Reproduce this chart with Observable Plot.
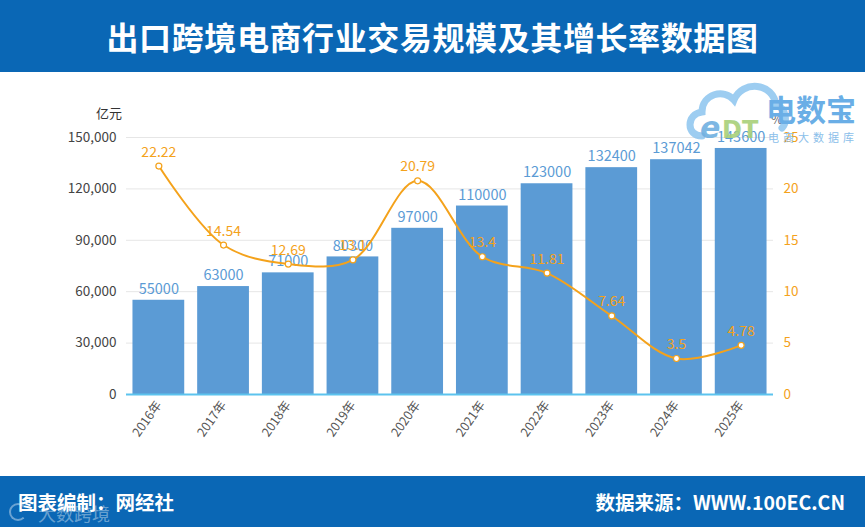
<!DOCTYPE html>
<html><head><meta charset="utf-8">
<script src="https://cdn.jsdelivr.net/npm/d3@7"></script>
<script src="https://cdn.jsdelivr.net/npm/@observablehq/plot@0.6"></script>
<style>
body{margin:0;width:865px;height:527px;overflow:hidden;background:#fff;font-family:"Noto Sans CJK SC","Noto Sans",sans-serif;position:relative}
#hdr{height:72px;background:#0a67b5;color:#fff;font-weight:bold;font-size:32px;display:flex;align-items:center;justify-content:center;letter-spacing:0.6px}
#chart{height:404px;position:relative}
#ftr{height:51px;background:#0a67b5;color:#fff;font-weight:bold;font-size:19.5px;position:relative}
#ftr .l{position:absolute;left:18px;top:11px}
#ftr .r{position:absolute;right:20px;top:11px}
#wm{position:absolute;left:38px;top:500px;color:rgba(255,255,255,0.4);font-size:18px}
#wmi{position:absolute;left:9px;top:503px;width:14px;height:14px;border:2px solid rgba(255,255,255,0.4);border-radius:50%;border-right-color:transparent}
.unit{position:absolute;font-size:13px;color:#333}
#logo{position:absolute;left:682px;top:76px;width:183px;height:75px}
</style></head><body>
<div id="hdr">出口跨境电商行业交易规模及其增长率数据图</div>
<div id="chart"></div>
<div id="ftr"><span class="l">图表编制：网经社</span><span class="r">数据来源：WWW.100EC.CN</span></div>
<div id="wmi"></div>
<div id="wm">大数跨境</div>
<div class="unit" style="left:96px;top:103px">亿元</div>
<div class="unit" style="left:771px;top:109px;color:#666">%</div>
<div id="logo">
<svg width="183" height="75">
<path d="M20 60 C4 60 4 38 20 36 C20 18 42 12 52 24 C60 4 92 6 94 30 C104 31 106 46 100 52" fill="none" stroke="#8cc4ee" stroke-opacity="0.85" stroke-width="7" stroke-linecap="round"/>
<text x="18" y="62" font-size="30" font-style="italic" fill="#6fb0e0" font-family="DejaVu Sans" font-weight="bold" opacity="0.9">e</text>
<text x="40" y="62" font-size="24" fill="#a8d07a" font-family="DejaVu Sans" font-weight="bold" opacity="0.9">DT</text>
<text x="84" y="45" font-size="30" fill="#6aaee6" font-weight="bold" font-family="Noto Sans CJK SC">电数宝</text>
<text x="86" y="66" font-size="11" fill="#8cc0ea" font-family="Noto Sans CJK SC" letter-spacing="4">电商大数据库</text>
</svg>
</div>
<script>
const years = ["2016年","2017年","2018年","2019年","2020年","2021年","2022年","2023年","2024年","2025年"];
const scaleValues = [55000,63000,71000,80300,97000,110000,123000,132400,137042,143600];
const growthValues = [22.22,14.54,12.69,13.1,20.79,13.4,11.81,7.64,3.5,4.78];
const leftTicks = [0,30000,60000,90000,120000,150000];
const rightTicks = [0,5,10,15,20,25];
const ratio = 150000/25;

const data = years.map((y,i)=>({year:y, v:scaleValues[i], g:growthValues[i], gs:growthValues[i]*ratio}));
const blue = "#5b9bd5", orange = "#f4a21b";

const chart = Plot.plot({
  width:865, height:404,
  marginLeft:126, marginRight:92, marginTop:65, marginBottom:82,
  style:{fontFamily:'"Noto Sans CJK SC","Noto Sans",sans-serif', background:"transparent"},
  x:{domain:years, paddingInner:0.2, paddingOuter:0.1, round:false, label:null},
  y:{domain:[0,150000], label:null},
  marks:[
    Plot.gridY(leftTicks.filter(d=>d>0), {stroke:"#e6e6e6", strokeOpacity:1}),
    Plot.barY(data,{x:"year", y:"v", fill:blue}),
    Plot.ruleY([0],{stroke:"#5cc3ee", strokeWidth:2}),
    Plot.axisY(leftTicks,{anchor:"left", tickSize:0, tickPadding:10, fontSize:13.5, color:"#444", tickFormat:d3.format(","), label:null}),
    Plot.axisY(rightTicks.map(d=>d*ratio),{anchor:"right", tickSize:0, tickPadding:10, fontSize:13.5, color:orange, tickFormat:d=>d/ratio, label:null}),
    Plot.axisX({tickSize:0, tickRotate:-55, tickPadding:8, fontSize:12.5, color:"#555", label:null}),
    Plot.text(data,{x:"year", y:"v", text:d=>String(d.v), dy:-11, fill:blue, fontSize:14.5}),
    Plot.line(data,{x:"year", y:"gs", stroke:orange, strokeWidth:2, curve:"catmull-rom"}),
    Plot.dot(data,{x:"year", y:"gs", r:3, fill:"white", stroke:orange, strokeWidth:1.2}),
    Plot.text(data,{x:"year", y:"gs", text:d=>String(d.g), dy:-14, fill:orange, fontSize:14})
  ]
});
document.getElementById("chart").appendChild(chart);
</script>
</body></html>
